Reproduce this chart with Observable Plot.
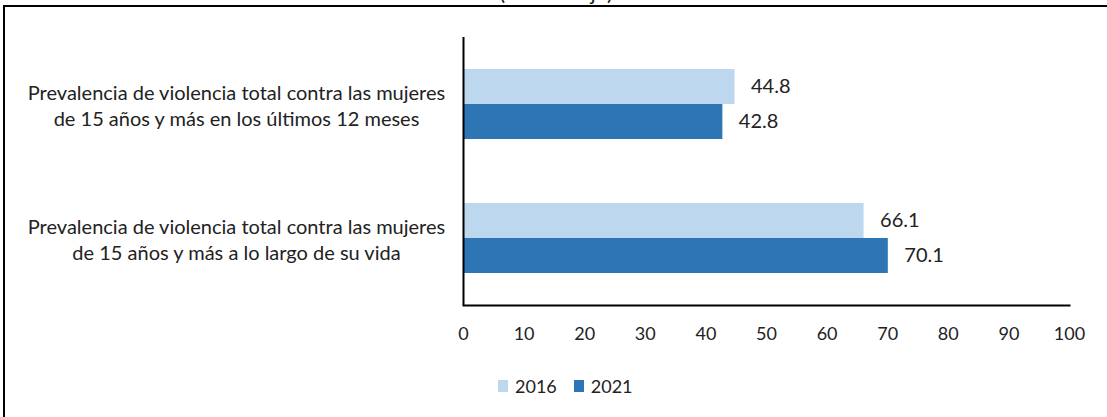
<!DOCTYPE html>
<html><head><meta charset="utf-8">
<script src="https://cdn.jsdelivr.net/npm/d3@7"></script>
<script src="https://cdn.jsdelivr.net/npm/@observablehq/plot@0.6"></script>
<style>
body{margin:0;width:1107px;height:417px;overflow:hidden;position:relative;background:#fff;font-family:Lato,sans-serif;color:#222;}
#title{position:absolute;left:0;width:1112px;text-align:center;top:-21px;font-size:22px;line-height:26px;}
#frame{position:absolute;left:3px;top:5px;width:1200px;height:500px;border:2px solid #000;z-index:2;pointer-events:none;}
#chart{position:absolute;left:0;top:0;}
#legend{position:absolute;top:373px;left:498px;display:flex;align-items:center;font-size:18px;line-height:26px;}
#legend .sw{display:inline-block;width:10px;height:12px;margin-right:7px;}
#legend .it{display:flex;align-items:center;margin-right:17px;}
</style></head>
<body>
<div id="title">(Porcentaje)</div>
<div id="chart"></div>
<div id="legend"></div>
<div id="frame"></div>
<script>
const categories = [
  "Prevalencia de violencia total contra las mujeres\nde 15 años y más en los últimos 12 meses",
  "Prevalencia de violencia total contra las mujeres\nde 15 años y más a lo largo de su vida"
];
const years = ["2016", "2021"];
const values2016 = [44.8, 66.1];
const values2021 = [42.8, 70.1];
const xTicks = [0, 10, 20, 30, 40, 50, 60, 70, 80, 90, 100];
const colors = ["#BDD7EE", "#2E75B6"];

const rows = [];
categories.forEach((c, i) => {
  rows.push({cat: c, year: years[0], value: values2016[i]});
  rows.push({cat: c, year: years[1], value: values2021[i]});
});

const chart = Plot.plot({
  width: 1107, height: 355,
  marginLeft: 463, marginRight: 38, marginTop: 37, marginBottom: 50,
  style: {fontFamily: "Lato, sans-serif", fontSize: "18px", background: "transparent", color: "#222"},
  x: {domain: [0, 100], label: null},
  fy: {domain: categories, padding: 0, axis: null},
  y: {domain: years, paddingInner: 0, paddingOuter: 0.914, axis: null},
  color: {domain: years, range: colors},
  marks: [
    Plot.barX(rows, {fy: "cat", y: "year", x: "value", fill: "year"}),
    Plot.text(rows, {fy: "cat", y: "year", x: "value", text: d => d.value.toFixed(1), dx: 16, textAnchor: "start", fill: "#222", fontSize: 20}),
    Plot.text(categories, {fy: d => d, text: d => d, frameAnchor: "left", dx: -227, textAnchor: "middle", lineHeight: 1.3, fontSize: 20, fill: "#222"}),
    Plot.ruleX([0], {stroke: "#000", strokeWidth: 2}),
    Plot.frame({anchor: "bottom", facetAnchor: "bottom", stroke: "#000", strokeWidth: 2}),
    Plot.axisX({ticks: xTicks, tickSize: 0, tickPadding: 22, tickFormat: d => String(d), label: null, fill: "#222", fontSize: 18})
  ]
});
document.getElementById("chart").appendChild(chart);

const lg = document.getElementById("legend");
years.forEach((y, i) => {
  const it = document.createElement("span");
  it.className = "it";
  it.innerHTML = `<span class="sw" style="background:${colors[i]}"></span><span>${y}</span>`;
  lg.appendChild(it);
});
</script>
</body></html>
